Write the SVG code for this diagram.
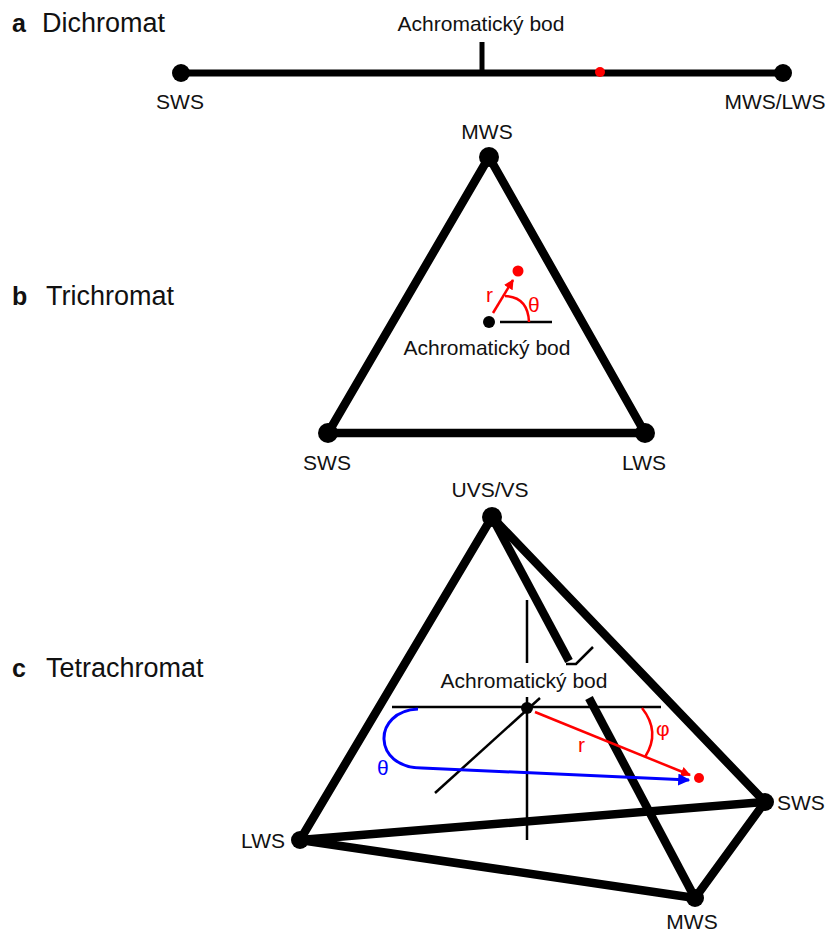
<svg xmlns="http://www.w3.org/2000/svg" width="835" height="933" viewBox="0 0 835 933">
<style>
text{font-family:"Liberation Sans",Arial,sans-serif;fill:#111}
.lbl{font-size:21px}
.ttl{font-size:27px}
.let{font-size:25px;font-weight:bold}
.red{fill:#f00}
.blue{fill:#00f}
.edge{stroke:#000;stroke-width:8.5;stroke-linecap:round;fill:none}
.ax{stroke:#000;stroke-width:2.5;fill:none}
.dot{fill:#000}
</style>
<defs>
<marker id="ahr" viewBox="0 0 10 10" refX="9" refY="5" markerWidth="4" markerHeight="4" orient="auto"><path d="M0,0L10,5L0,10z" fill="#f00"/></marker>
<marker id="ahb" viewBox="0 0 10 10" refX="9" refY="5" markerWidth="4" markerHeight="4" orient="auto"><path d="M0,0L10,5L0,10z" fill="#00f"/></marker>
</defs>

<!-- Panel a -->
<g id="title-a"><text class="let" x="12" y="32">a</text><text class="ttl" x="42" y="32">Dichromat</text></g>
<g id="connectors-a">
<line class="edge" x1="181" y1="73" x2="783" y2="73" style="stroke-width:7"/>
<line x1="482" y1="42" x2="482" y2="73" stroke="#000" stroke-width="5"/>
</g>
<g id="a-sws"><circle class="dot" cx="181" cy="73" r="9"/><text class="lbl" x="180" y="109" text-anchor="middle">SWS</text></g>
<g id="a-mwslws"><circle class="dot" cx="783" cy="73" r="9"/><text class="lbl" x="775" y="109" text-anchor="middle">MWS/LWS</text></g>
<g id="a-achro"><text class="lbl" x="481" y="31" text-anchor="middle">Achromatický bod</text></g>
<g id="a-point"><circle cx="600" cy="72" r="5" fill="#f00"/></g>

<!-- Panel b -->
<g id="title-b"><text class="let" x="12" y="305">b</text><text class="ttl" x="46" y="305">Trichromat</text></g>
<g id="connectors-b">
<path class="edge" d="M489,157 L328,433 L645,433 Z" style="stroke-linejoin:round"/>
<line class="ax" x1="500" y1="322" x2="552" y2="322"/>
<line x1="493" y1="313" x2="513" y2="280" stroke="#f00" stroke-width="2.5" marker-end="url(#ahr)"/>
<path d="M529,322 Q528,297 505,296" stroke="#f00" stroke-width="2.5" fill="none"/>
</g>
<g id="b-mws"><circle class="dot" cx="489" cy="157" r="10"/><text class="lbl" x="487" y="139" text-anchor="middle">MWS</text></g>
<g id="b-sws"><circle class="dot" cx="328" cy="433" r="10"/><text class="lbl" x="327" y="470" text-anchor="middle">SWS</text></g>
<g id="b-lws"><circle class="dot" cx="645" cy="433" r="10"/><text class="lbl" x="644" y="470" text-anchor="middle">LWS</text></g>
<g id="b-achro"><circle class="dot" cx="489" cy="322" r="6"/><text class="lbl" x="487" y="355" text-anchor="middle">Achromatický bod</text></g>
<g id="b-point"><circle cx="518" cy="271" r="5.5" fill="#f00"/><text class="lbl red" x="486" y="302">r</text><text class="lbl red" x="528" y="312">θ</text></g>

<!-- Panel c -->
<g id="title-c"><text class="let" x="12" y="677">c</text><text class="ttl" x="46" y="677">Tetrachromat</text></g>
<g id="connectors-c">
<line class="edge" x1="492" y1="517" x2="300" y2="840"/>
<line class="edge" x1="492" y1="517" x2="765" y2="802"/>
<line class="edge" x1="492" y1="517" x2="569" y2="661" style="stroke-linecap:butt"/>
<line class="edge" x1="589" y1="698" x2="695" y2="898" style="stroke-linecap:butt"/>
<line class="edge" x1="300" y1="840" x2="765" y2="802"/>
<line class="edge" x1="300" y1="840" x2="695" y2="898"/>
<line class="edge" x1="765" y1="802" x2="695" y2="898"/>
<polyline class="ax" points="566,664 576,664 593,647"/>
<line class="ax" x1="527" y1="600" x2="527" y2="663"/>
<line class="ax" x1="527" y1="697" x2="527" y2="840"/>
<line class="ax" x1="392" y1="707" x2="661" y2="707"/>
<line class="ax" x1="435" y1="793" x2="540" y2="698"/>
<line x1="535" y1="712" x2="690" y2="775" stroke="#f00" stroke-width="2.5" marker-end="url(#ahr)"/>
<path d="M642,708 Q661,732 645,757" stroke="#f00" stroke-width="2.5" fill="none"/>
<path d="M418,709 C372,711 372,768 422,768 L689,780" stroke="#00f" stroke-width="3" fill="none" marker-end="url(#ahb)"/>
</g>
<g id="c-uvs"><circle class="dot" cx="492" cy="517" r="10"/><text class="lbl" x="490" y="497" text-anchor="middle">UVS/VS</text></g>
<g id="c-lws"><circle class="dot" cx="300" cy="840" r="9"/><text class="lbl" x="285" y="848" text-anchor="end">LWS</text></g>
<g id="c-sws"><circle class="dot" cx="765" cy="802" r="9"/><text class="lbl" x="777" y="810">SWS</text></g>
<g id="c-mws"><circle class="dot" cx="695" cy="898" r="9"/><text class="lbl" x="692" y="929" text-anchor="middle">MWS</text></g>
<g id="c-achro"><circle class="dot" cx="527" cy="708" r="6"/><text class="lbl" x="524" y="688" text-anchor="middle">Achromatický bod</text></g>
<g id="c-point"><circle cx="699" cy="778" r="5" fill="#f00"/><text class="lbl red" x="578" y="752">r</text><text class="lbl red" x="656" y="736">φ</text><text class="lbl blue" x="377" y="775">θ</text></g>
</svg>
